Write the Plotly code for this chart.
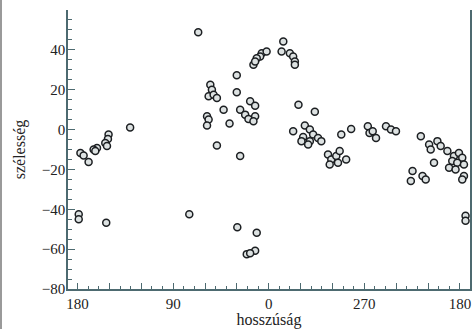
import plotly.graph_objects as go

# longitude (east positive) and latitude of each event
lon = [130.5, 150.8, 151.4, 153.9, 152.3, 161.7, 164.9, 163.3, 177.3, 174.3, 169.6, 178.9, 178.9, 153.0,
       66.4, 6.6, 8.1, 11.3, 2.0, 14.4, 12.8, -13.7, -12.1, -19.9, -23.0, -24.6, -24.6, 30.1,
       55.0, 53.5, 56.6, 51.9, 48.8, 30.1, 17.5, 12.8, 42.5, 26.9, 22.2, 19.1, 12.8, 14.4,
       58.1, 56.6, 58.1, 36.9, 48.8, 26.9, 74.8, 29.6, 11.3, 20.7, 12.8, 17.5,
       -28.0, -43.4, -34.0, -38.7, -23.0, -41.8, -32.4, -30.8, -38.7, -37.1, -46.4, -49.5,
       -68.3, -77.6, -93.3, -94.9, -101.0, -97.9, -110.4, -115.1, -119.8,
       -55.8, -58.9, -63.6, -66.8, -65.2, -72.9, -57.4,
       -143.2, -151.0, -158.8, -152.5, -161.9, -168.2, -174.4, -179.1, -182.2, -172.8, -177.5,
       -183.8, -169.8, -175.9, -155.6, -135.4, -133.8, -144.8, -147.8, -183.8, -182.2, -185.3, -185.3]
lat = [1.0, -2.5, -4.7, -6.7, -8.3, -9.2, -10.0, -10.8, -11.7, -13.0, -16.3, -42.5, -45.0, -46.7,
       48.8, 38.3, 36.7, 35.8, 39.2, 32.5, 34.2, 44.2, 39.2, 38.3, 36.7, 34.2, 32.5, 27.3,
       22.5, 20.0, 16.7, 17.5, 15.8, 18.7, 14.2, 12.0, 10.0, 10.0, 7.5, 5.3, 6.7, 4.2,
       6.7, 5.0, 2.0, 3.0, -8.0, -13.3, -42.5, -49.0, -51.8, -62.5, -60.8, -62.0,
       12.5, 9.0, 2.0, 0.0, -0.8, -2.5, -3.7, -5.8, -5.8, -7.5, -4.2, -5.8,
       -2.5, 0.3, 1.7, -1.7, -4.2, -0.8, 1.7, 0.0, -0.8,
       -12.5, -15.0, -13.3, -10.8, -16.7, -15.0, -17.5,
       -3.3, -7.5, -5.8, -10.0, -8.3, -10.8, -13.3, -11.7, -14.2, -15.8, -16.7,
       -17.5, -19.2, -20.0, -16.7, -20.8, -25.8, -23.3, -25.0, -23.3, -25.0, -43.3, -45.8]

x_tickvals = list(range(180, -181, -30))
x_ticktext = []
for v in x_tickvals:
    if v % 90 != 0:
        x_ticktext.append("")
    elif abs(v) == 180:
        x_ticktext.append("180")
    else:
        x_ticktext.append(str(v % 360))
y_tickvals = [-80, -60, -40, -20, 0, 20, 40]

axis_col = "#4d6a70"
font_fam = "Liberation Serif, DejaVu Serif, serif"

fig = go.Figure(go.Scatter(
    x=lon, y=lat, mode="markers",
    marker=dict(size=7, color="#dde2e2", line=dict(color="#1c1f22", width=1.5)),
    hoverinfo="x+y",
))

W, H = 472, 329
ml, mr, mt, mb = 68, 2, 10, 40

fig.update_layout(
    width=W, height=H,
    margin=dict(l=ml, r=mr, t=mt, b=mb),
    paper_bgcolor="white", plot_bgcolor="white",
    font=dict(family=font_fam, size=15, color="#222"),
    showlegend=False,
    xaxis=dict(
        range=[189, -189.5], tickmode="array", tickvals=x_tickvals, ticktext=x_ticktext,
        ticks="inside", ticklen=6, tickwidth=1.3, tickcolor=axis_col,
        minor=dict(dtick=10, tick0=0, ticks="inside", ticklen=3, tickcolor=axis_col, showgrid=False),
        showline=True, linecolor=axis_col, linewidth=1.5, showgrid=False, zeroline=False,
        automargin=False, ticklabeloverflow="allow",
        title=dict(text="hosszúság", font=dict(size=16), standoff=5),
    ),
    yaxis=dict(
        range=[-80, 60], tickmode="array", tickvals=y_tickvals,
        ticks="inside", ticklen=7, tickwidth=1.3, tickcolor=axis_col,
        minor=dict(dtick=5, tick0=0, ticks="inside", ticklen=4, tickcolor=axis_col, showgrid=False),
        showline=True, linecolor=axis_col, linewidth=1.5, mirror=True,
        showgrid=False, zeroline=False, automargin=False, ticklabelstandoff=-2,
        title=dict(text="szélesség", font=dict(size=16), standoff=12),
    ),
    shapes=[dict(type="line", xref="paper", yref="paper",
                 x0=-(ml - 1) / (W - ml - mr), x1=-(ml - 1) / (W - ml - mr),
                 y0=-mb / (H - mt - mb), y1=1 + mt / (H - mt - mb),
                 line=dict(color="#9a9a9a", width=2))],
)

fig.write_html("out.html", config={"displayModeBar": False},
               post_script="document.body.style.margin='0';document.body.style.overflow='hidden';")
